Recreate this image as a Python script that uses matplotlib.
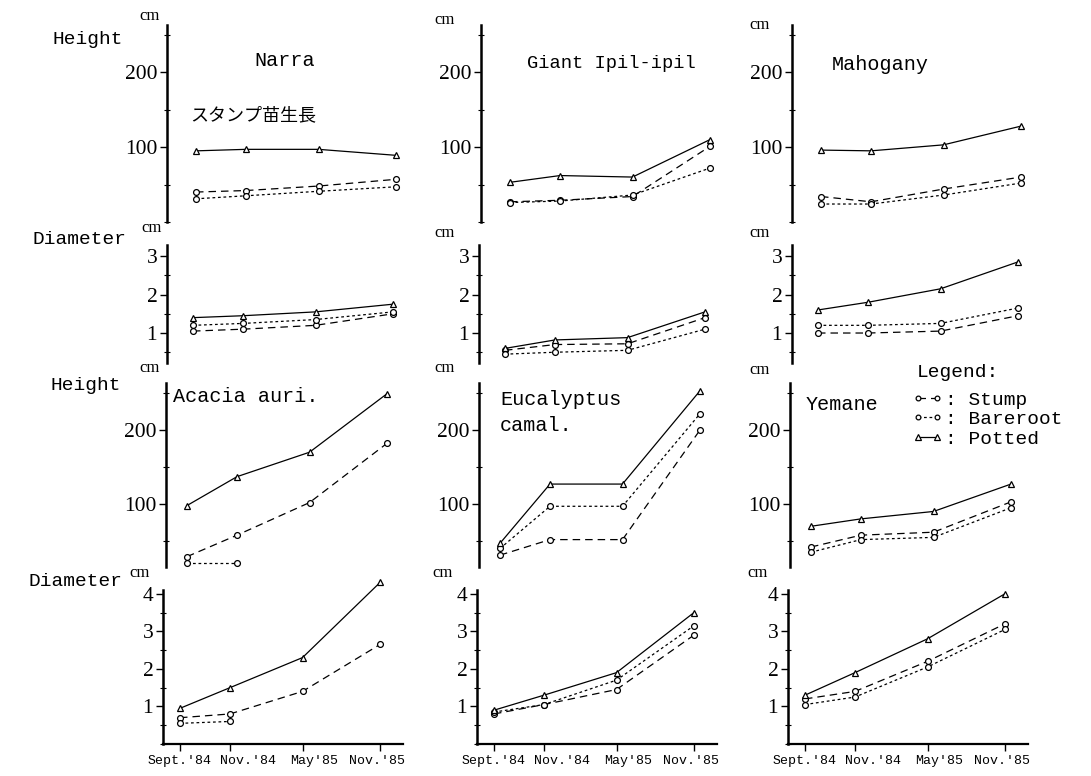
import numpy as np
import matplotlib
matplotlib.use("Agg")
import matplotlib.pyplot as plt
from matplotlib.lines import Line2D
from matplotlib.ticker import MultipleLocator, FixedLocator
from matplotlib.transforms import ScaledTranslation

nan = np.nan

# measurement dates (categorical positions, not to time scale)
x = [0, 1, 2.45, 4.0]
dates = ["Sept.'84", "Nov.'84", "May'85", "Nov.'85"]

# height (cm)
narra_h_stump = [40, 42, 48, 57]
narra_h_bare = [31, 35, 41, 47]
narra_h_pot = [95, 97, 97, 89]

giant_h_stump = [27, 29, 34, 101]
giant_h_bare = [26, 28, 36, 72]
giant_h_pot = [53, 62, 60, 110]

mahog_h_stump = [34, 27, 44, 60]
mahog_h_bare = [24, 24, 36, 52]
mahog_h_pot = [96, 95, 103, 128]

acacia_h_stump = [29, 58, 102, 182]
acacia_h_bare = [21, 21, nan, nan]
acacia_h_pot = [98, 137, 170, 249]

euc_h_stump = [31, 52, 52, 200]
euc_h_bare = [40, 97, 97, 222]
euc_h_pot = [47, 127, 127, 253]

yemane_h_stump = [42, 58, 62, 103]
yemane_h_bare = [35, 52, 55, 95]
yemane_h_pot = [70, 80, 90, 127]

# diameter (cm)
narra_d_stump = [1.05, 1.1, 1.2, 1.5]
narra_d_bare = [1.2, 1.25, 1.35, 1.55]
narra_d_pot = [1.4, 1.45, 1.55, 1.75]

giant_d_stump = [0.55, 0.7, 0.72, 1.4]
giant_d_bare = [0.45, 0.5, 0.55, 1.1]
giant_d_pot = [0.6, 0.82, 0.88, 1.55]

mahog_d_stump = [1.0, 1.0, 1.05, 1.45]
mahog_d_bare = [1.2, 1.2, 1.25, 1.65]
mahog_d_pot = [1.6, 1.8, 2.15, 2.85]

acacia_d_stump = [0.7, 0.8, 1.4, 2.65]
acacia_d_bare = [0.55, 0.6, nan, nan]
acacia_d_pot = [0.95, 1.5, 2.3, 4.3]

euc_d_stump = [0.8, 1.05, 1.45, 2.9]
euc_d_bare = [0.85, 1.05, 1.7, 3.15]
euc_d_pot = [0.9, 1.3, 1.9, 3.5]

yemane_d_stump = [1.2, 1.4, 2.2, 3.2]
yemane_d_bare = [1.05, 1.25, 2.05, 3.05]
yemane_d_pot = [1.3, 1.9, 2.8, 4.0]

grid = [
    [(narra_h_stump, narra_h_bare, narra_h_pot),
     (giant_h_stump, giant_h_bare, giant_h_pot),
     (mahog_h_stump, mahog_h_bare, mahog_h_pot)],
    [(narra_d_stump, narra_d_bare, narra_d_pot),
     (giant_d_stump, giant_d_bare, giant_d_pot),
     (mahog_d_stump, mahog_d_bare, mahog_d_pot)],
    [(acacia_h_stump, acacia_h_bare, acacia_h_pot),
     (euc_h_stump, euc_h_bare, euc_h_pot),
     (yemane_h_stump, yemane_h_bare, yemane_h_pot)],
    [(acacia_d_stump, acacia_d_bare, acacia_d_pot),
     (euc_d_stump, euc_d_bare, euc_d_pot),
     (yemane_d_stump, yemane_d_bare, yemane_d_pot)],
]

height_ticks = [100, 200]
diam_ticks_top = [1, 2, 3]
diam_ticks_bottom = [1, 2, 3, 4]

W, H = 1091, 776
MONO = "Liberation Mono"
SERIF = "Liberation Serif"

fig = plt.figure(figsize=(W / 100, H / 100), dpi=100)
fig.patch.set_facecolor("white")


def fx(px):
    return px / W


def fy(py):
    return 1 - py / H


# pixel boxes: row -> (top, bottom), spine x per row/col
rows_tb = [(25, 222), (245, 363), (383, 567), (590, 744)]
spine_x = [[167, 481, 792], [167, 479, 792], [166, 479, 790], [163, 477, 788]]
first_off = [29, 26, 21, 17]
ylims = [(0, 263), (0.22, 3.29), (15, 263.5), (0, 4.1)]
yticks = [height_ticks, diam_ticks_top, height_ticks, diam_ticks_bottom]
ax_w = 240
px_per_unit = 50
# date labels sit a little off their ticks
label_shift = [0, 18, 12, -3]

styles = [
    dict(ls=(0, (6, 4)), marker="o", ms=4.2),      # stump
    dict(ls=(0, (2.2, 2.2)), marker="o", ms=4.2),  # bareroot
    dict(ls="-", marker="^", ms=5),                # potted
]

axes = {}
for r in range(4):
    top, bot = rows_tb[r]
    for c in range(3):
        left = spine_x[r][c]
        ax = fig.add_axes([fx(left), fy(bot), ax_w / W, (bot - top) / H])
        axes[r, c] = ax
        for vals, st in zip(grid[r][c], styles):
            ax.plot(x, vals, color="black", lw=0.9, ls=st["ls"],
                    marker=st["marker"], ms=st["ms"], mfc="white",
                    mec="black", mew=0.9, clip_on=False)
        x0 = -first_off[r] / px_per_unit
        ax.set_xlim(x0, x0 + ax_w / px_per_unit)
        ax.set_ylim(*ylims[r])
        ax.set_facecolor("none")
        for s in ["top", "right"]:
            ax.spines[s].set_visible(False)
        ax.spines["left"].set_linewidth(1.8)
        ax.yaxis.set_major_locator(FixedLocator(yticks[r]))
        if r % 2 == 0:
            ax.yaxis.set_minor_locator(MultipleLocator(50))
        else:
            ax.yaxis.set_minor_locator(MultipleLocator(0.5))
        ax.tick_params(axis="y", which="major", direction="out", length=5,
                       width=1, pad=2, labelsize=15.5)
        ax.tick_params(axis="y", which="minor", direction="inout", length=4,
                       width=0.8)
        for lab in ax.get_yticklabels():
            lab.set_fontfamily(SERIF)
        if r == 3:
            ax.spines["bottom"].set_linewidth(1.6)
            ax.set_xticks(x)
            ax.set_xticklabels(dates, fontfamily=MONO, fontsize=9.5)
            ax.tick_params(axis="x", direction="out", length=5, width=1,
                           pad=3)
            for lab, dx in zip(ax.get_xticklabels(), label_shift):
                lab.set_transform(lab.get_transform() +
                                  ScaledTranslation(dx / 100, 0,
                                                    fig.dpi_scale_trans))
        else:
            ax.spines["bottom"].set_visible(False)
            ax.set_xticks([])

# row labels and units
for txt, px, py in [("Height", 52, 40), ("Diameter", 33, 240),
                    ("Height", 50, 385), ("Diameter", 28, 582)]:
    fig.text(fx(px), fy(py), txt, fontfamily=MONO, fontsize=14,
             ha="left", va="center")

for px, py in [(150, 16), (152, 228), (150, 368), (140, 573),
               (445, 20), (445, 233), (445, 368), (443, 573),
               (760, 25), (760, 233), (760, 370), (758, 573)]:
    fig.text(fx(px), fy(py), "cm", fontfamily=SERIF, fontsize=12,
             ha="center", va="center")

# species names
fig.text(fx(285), fy(60), "Narra", fontfamily=MONO, fontsize=14.5,
         ha="center", va="center")
fig.text(fx(190), fy(115), "スタンプ苗生長",
         fontfamily=["Noto Sans CJK JP", "DejaVu Sans"], fontsize=13,
         ha="left", va="center")
fig.text(fx(527), fy(63), "Giant Ipil-ipil", fontfamily=MONO,
         fontsize=13.5, ha="left", va="center")
fig.text(fx(832), fy(65), "Mahogany", fontfamily=MONO, fontsize=14.5,
         ha="left", va="center")
fig.text(fx(173), fy(397), "Acacia auri.", fontfamily=MONO, fontsize=14.5,
         ha="left", va="center")
fig.text(fx(500), fy(400), "Eucalyptus", fontfamily=MONO, fontsize=14.5,
         ha="left", va="center")
fig.text(fx(500), fy(425), "camal.", fontfamily=MONO, fontsize=14.5,
         ha="left", va="center")
fig.text(fx(806), fy(405), "Yemane", fontfamily=MONO, fontsize=14.5,
         ha="left", va="center")

# legend
fig.text(fx(917), fy(372), "Legend:", fontfamily=MONO, fontsize=14,
         ha="left", va="center")
handles = [Line2D([], [], color="black", lw=0.9, ls=st["ls"],
                  marker=st["marker"], ms=st["ms"] - 0.8, mfc="white",
                  mec="black", mew=0.9) for st in styles]
leg = fig.legend(handles, [": Stump", ": Bareroot", ": Potted"],
                 loc="upper left", bbox_to_anchor=(fx(912), fy(391)),
                 frameon=False, numpoints=2, handlelength=1.6,
                 handletextpad=0.1, labelspacing=0.1, borderpad=0,
                 borderaxespad=0, prop=dict(family=MONO, size=14))

fig.savefig("out.png", dpi=100, facecolor="white")
